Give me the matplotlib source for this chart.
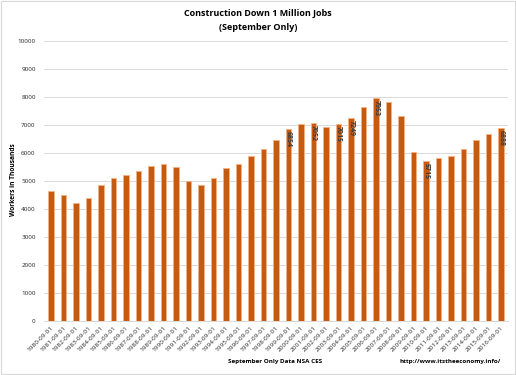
import numpy as np
import matplotlib.pyplot as plt

years = list(range(1980, 2017))
labels = [f'{y}-09-01' for y in years]
jobs = [4637, 4494, 4208, 4398, 4841, 5113, 5209, 5352, 5542, 5590,
        5495, 5005, 4862, 5090, 5448, 5590, 5877, 6140, 6460, 6854,
        7033, 7052, 6925, 7015, 7249, 7640, 7953, 7830, 7308, 6032,
        5715, 5806, 5877, 6128, 6450, 6675, 6888]
# bars that carry a value label in the original
labelled = ['1999-09-01', '2001-09-01', '2003-09-01', '2004-09-01',
            '2006-09-01', '2010-09-01', '2016-09-01']

fig = plt.figure(figsize=(5.16, 3.75), dpi=100)
plt.rcParams['font.family'] = ['Open Sans', 'DejaVu Sans']

ax = fig.add_axes([44/516, 1-320.7/375, 464/516, 279.7/375])
x = np.arange(len(years))
bars = ax.bar(x, jobs, width=0.45, color='#C55A11', edgecolor='#F4B183', linewidth=0.6, zorder=3)

for i, lab in enumerate(labels):
    if lab in labelled:
        ax.text(x[i], jobs[i] - 60, str(jobs[i]), rotation=-90, ha='center', va='top',
                fontsize=5, fontweight='bold', color='#3A3A3A', zorder=4)

ax.set_ylim(0, 10000)
ax.set_xlim(-0.55, len(years) - 0.45)
ax.set_yticks(range(0, 10001, 1000))
ax.set_yticklabels([str(v) for v in range(0, 10001, 1000)], fontsize=4.5, color='#262626')
ax.set_xticks(x)
ax.set_xticklabels(labels, rotation=45, ha='right', rotation_mode='anchor', fontsize=4.6, color='#262626')
ax.tick_params(axis='both', length=0, pad=6)
ax.tick_params(axis='x', pad=3)
ax.grid(axis='y', color='#D9D9D9', linewidth=0.7, zorder=0)
for s in ['top', 'right', 'left']:
    ax.spines[s].set_visible(False)
ax.spines['bottom'].set_color('#D9D9D9')
ax.spines['bottom'].set_linewidth(0.7)

fig.text(258/516, 1-13/375, 'Construction Down 1 Million Jobs', ha='center', va='center',
         fontsize=6.5, fontweight='bold', color='#000000')
fig.text(258/516, 1-27/375, '(September Only)', ha='center', va='center',
         fontsize=6.5, fontweight='bold', color='#000000')
fig.text(14/516, 1-180/375, 'Workers in Thousands', rotation=90, ha='center', va='center',
         fontsize=4.8, fontweight='bold', color='#000000')
fig.text(275/516, 1-361/375, 'September Only Data NSA CES', ha='center', va='center',
         fontsize=4.5, fontweight='bold', color='#000000')
fig.text(450/516, 1-361/375, 'http://www.itstheeconomy.info/', ha='center', va='center',
         fontsize=4.5, fontweight='bold', color='#000000')

# chart area border
fig.patches.append(plt.Rectangle((0.002, 0.003), 0.996, 0.994, transform=fig.transFigure,
                                 fill=False, edgecolor='#D9D9D9', linewidth=0.8))

fig.savefig('out.png', dpi=100)
